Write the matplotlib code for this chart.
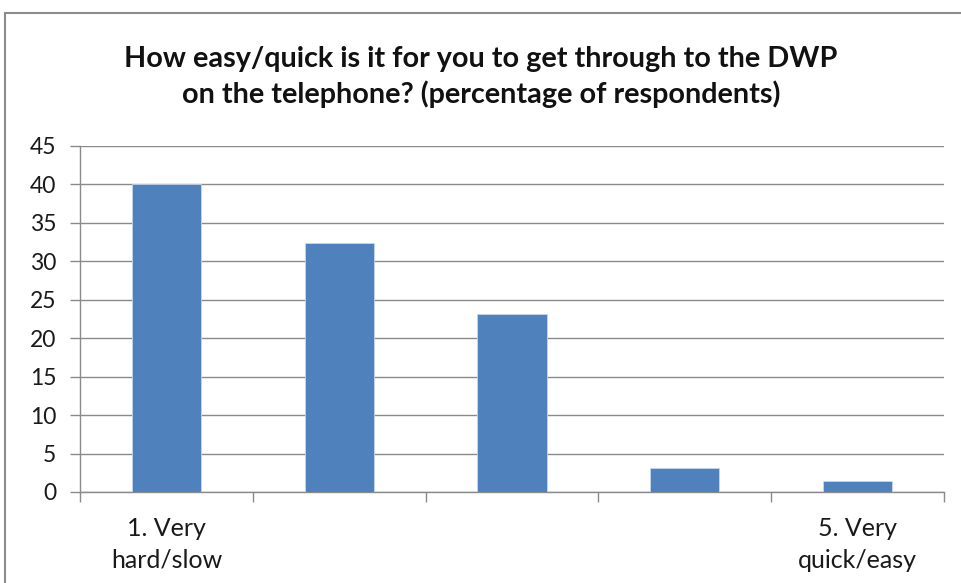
import numpy as np
import matplotlib
matplotlib.use("Agg")
import matplotlib.pyplot as plt
from matplotlib.patches import Rectangle

plt.rcParams['font.family'] = ['Lato', 'DejaVu Sans']

# data
categories = ["1. Very\nhard/slow", "", "", "", "5. Very\nquick/easy"]
values = [40, 32.4, 23.1, 3.1, 1.4]
yticks = [0, 5, 10, 15, 20, 25, 30, 35, 40, 45]
title = "How easy/quick is it for you to get through to the DWP\non the telephone? (percentage of respondents)"

fig = plt.figure(figsize=(9.62, 5.83), dpi=100)
ax = fig.add_axes([80/962, 1 - 492/583, 864/962, 346/583])

x = np.arange(len(values))
ax.bar(x, values, width=0.4, color='#4f81bd', edgecolor='#c6d6ea', linewidth=0.6, zorder=3)

ax.set_xlim(-0.5, len(values) - 0.5)
ax.set_ylim(0, 45)
ax.set_yticks(yticks)
ax.yaxis.grid(True, color='#8a8a8a', linewidth=1.0, zorder=0)

ax.set_xticks(x)
ax.set_xticklabels(categories, fontsize=18, color='#1a1a1a', linespacing=1.45)
ax.set_xticks(np.arange(len(values) + 1) - 0.5, minor=True)
ax.tick_params(axis='x', which='major', length=0, pad=18)
ax.tick_params(axis='x', which='minor', length=7, color='#8a8a8a', width=1)
ax.tick_params(axis='y', length=7, color='#8a8a8a', width=1, labelsize=16.5,
               labelcolor='#1a1a1a', pad=10)

for s in ['top', 'right']:
    ax.spines[s].set_visible(False)
for s in ['left', 'bottom']:
    ax.spines[s].set_color('#8a8a8a')
    ax.spines[s].set_linewidth(1.0)

fig.text(0.5, 1 - 77/583, title, ha='center', va='center', fontsize=20.7,
         fontweight='bold', color='#111111', linespacing=1.35)

# chart area border
fig.patches.append(Rectangle((5/962, -0.05), 1.1, 1 - 13/583 + 0.05,
                             transform=fig.transFigure, fill=False,
                             edgecolor='#8c8c8c', linewidth=1.5))

fig.savefig("out.png", dpi=100)
